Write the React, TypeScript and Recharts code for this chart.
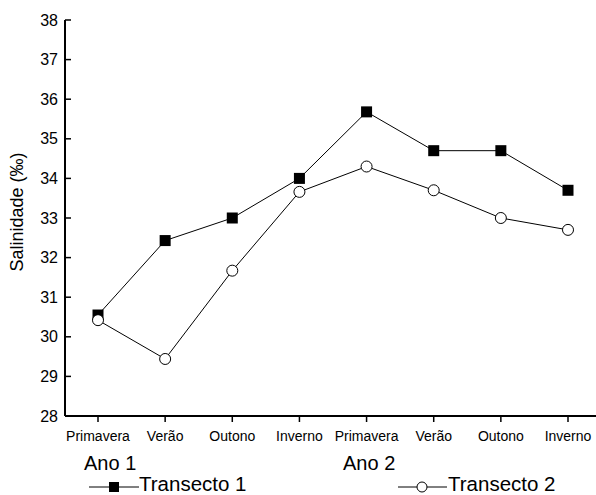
import { LineChart, Line, XAxis, YAxis } from "recharts"

const seasons = ["Primavera", "Verão", "Outono", "Inverno", "Primavera", "Verão", "Outono", "Inverno"]
const transecto1 = [30.55, 32.43, 33.0, 34.0, 35.68, 34.7, 34.7, 33.7]
const transecto2 = [30.42, 29.44, 31.67, 33.66, 34.3, 33.7, 33.0, 32.7]
const yTicks = [28, 29, 30, 31, 32, 33, 34, 35, 36, 37, 38]
const yearLabels = ["Ano 1", "Ano 2"]
const seriesNames = ["Transecto 1", "Transecto 2"]

const FONT = '"Liberation Sans", Arial, sans-serif'

const data = seasons.map((s, i) => ({
  idx: i,
  season: s,
  t1: transecto1[i],
  t2: transecto2[i],
}))

// filled square marker
function SquareDot(props: any) {
  const { cx, cy } = props
  if (cx == null || cy == null) return null
  return <rect x={cx - 5.5} y={cy - 5.5} width={11} height={11} fill="#000" />
}

function CircleDot(props: any) {
  const { cx, cy } = props
  if (cx == null || cy == null) return null
  return <circle cx={cx} cy={cy} r={5.5} fill="#fff" stroke="#000" strokeWidth={1} />
}

export default function App() {
  return (
    <div style={{ position: "absolute", left: 0, top: 0, width: 596, height: 495, fontFamily: FONT }}>
      <LineChart width={596} height={495} data={data} margin={{ top: 20, right: 0, left: 0, bottom: 49 }}>
        <XAxis
          dataKey="idx"
          type="category"
          tickFormatter={(v) => seasons[v]}
          padding={{ left: 33, right: 28 }}
          stroke="#000"
          axisLine={{ stroke: "#000", strokeWidth: 2 }}
          tickLine={{ stroke: "#000", strokeWidth: 1.5 }}
          tickSize={6}
          tickMargin={9}
          height={30}
          interval={0}
          tick={{ fill: "#000", fontSize: 14, fontFamily: FONT }}
        />
        <YAxis
          domain={[28, 38]}
          ticks={yTicks}
          width={65}
          stroke="#000"
          axisLine={{ stroke: "#000", strokeWidth: 2 }}
          tickLine={{ stroke: "#000", strokeWidth: 1.5 }}
          tickSize={-6}
          tickMargin={13}
          interval={0}
          tick={{ fill: "#000", fontSize: 16, fontFamily: FONT }}
        />
        <Line
          dataKey="t1"
          stroke="#000"
          strokeWidth={1}
          dot={<SquareDot />}
          isAnimationActive={false}
        />
        <Line
          dataKey="t2"
          stroke="#000"
          strokeWidth={1}
          dot={<CircleDot />}
          isAnimationActive={false}
        />
      </LineChart>
      <svg
        width={596}
        height={495}
        style={{ position: "absolute", left: 0, top: 0, pointerEvents: "none" }}
      >
        <text
          transform="translate(23, 212) rotate(-90)"
          textAnchor="middle"
          fontSize={18}
          fontFamily={FONT}
          fill="#000"
        >
          Salinidade (‰)
        </text>
        <text x={84} y={470} fontSize={20} fontFamily={FONT} fill="#000">
          {yearLabels[0]}
        </text>
        <text x={343} y={470} fontSize={20} fontFamily={FONT} fill="#000">
          {yearLabels[1]}
        </text>
        <line x1={89} y1={487} x2={139} y2={487} stroke="#000" strokeWidth={1} />
        <rect x={109} y={482} width={10} height={10} fill="#000" />
        <text x={139} y={491} fontSize={20.5} fontFamily={FONT} fill="#000">
          {seriesNames[0]}
        </text>
        <line x1={398} y1={487} x2={447} y2={487} stroke="#000" strokeWidth={1} />
        <circle cx={422} cy={487} r={5} fill="#fff" stroke="#000" strokeWidth={1} />
        <text x={448} y={491} fontSize={20.5} fontFamily={FONT} fill="#000">
          {seriesNames[1]}
        </text>
      </svg>
    </div>
  )
}
